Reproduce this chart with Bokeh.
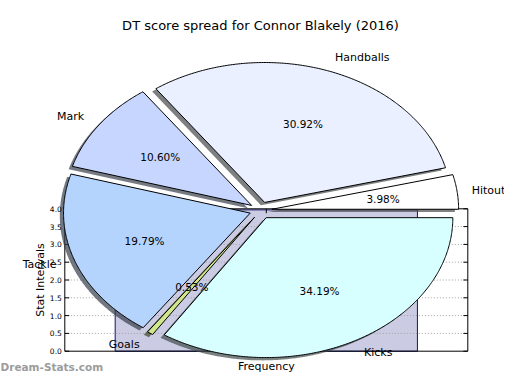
import numpy as np
from bokeh.plotting import figure
from bokeh.models import Range1d, ColumnDataSource
from bokeh.embed import file_html
from bokeh.resources import INLINE
from bokeh.core.properties import value

# ---------------- data ----------------
title_text = "DT score spread for Connor Blakely (2016)"
categories = ["Hitout", "Handballs", "Mark", "Tackle", "Goals", "Kicks"]
shares = [3.98, 30.92, 10.60, 19.79, 0.53, 34.19]
bar_categories = ["Frequency"]
bar_values = [3.97]
y_ticks = [0.0, 0.5, 1.0, 1.5, 2.0, 2.5, 3.0, 3.5, 4.0]
y_tick_labels = ["0.0", "0.5", "1.0", "1.5", "2.0", "2.5", "3.0", "3.5", "4.0"]
y_axis_label = "Stat Intervals"
watermark = "Dream-Stats.com"

# ---------------- styles ----------------
slice_colors = ["#ffffff", "#eaf0ff", "#c6d6ff", "#b4d4fe", "#cfe68a", "#d8ffff"]
bar_color = "#cbcbe4"
bar_edge = "#14146e"
FONT = "DejaVu Sans"

# ---------------- layout (pixels) ----------------
W, H = 504, 374
CX, CY, RX, RY = 260.3, 209.8, 186.7, 139.9      # pie centre / radii
EXPLODE = 0.06
SHADOW = 0.02
AX0, AX1, AYT, AYB = 64.3, 467.3, 208.3, 350.7    # inner axes box
XLIM = (-0.5, 0.5)
YLIM = (0.0, 4.0)
BAR_W = 0.75
TICK = 4.4

x_range = Range1d((0 - CX) / RX, (W - CX) / RX)
y_range = Range1d((CY - H) / RY, (CY - 0) / RY)

sx = (XLIM[1] - XLIM[0]) / (AX1 - AX0)
sy = (YLIM[1] - YLIM[0]) / (AYB - AYT)
bar_xr = Range1d(XLIM[0] - AX0 * sx, XLIM[1] + (W - AX1) * sx)
bar_yr = Range1d(YLIM[0] - (H - AYB) * sy, YLIM[1] + AYT * sy)

p = figure(width=W, height=H, x_range=x_range, y_range=y_range,
           output_backend="svg", toolbar_location=None, min_border=0,
           x_axis_type=None, y_axis_type=None, outline_line_color=None,
           background_fill_color="white", border_fill_color="white")
p.grid.visible = False
p.extra_x_ranges = {"bar": bar_xr}
p.extra_y_ranges = {"bar": bar_yr}
B = dict(x_range_name="bar", y_range_name="bar")

# ---------------- bar chart ----------------
p.vbar(x=[0.0], top=bar_values, bottom=0.0, width=BAR_W,
       fill_color=bar_color, line_color=bar_edge, line_width=1, **B)

inner = [t for t in y_ticks if YLIM[0] < t < YLIM[1]]
p.segment(x0=[XLIM[0]] * len(inner), x1=[XLIM[1]] * len(inner), y0=inner, y1=inner,
          line_color="#a0a0a0", line_width=1, line_dash="1 2", **B)

# ticks (inward)
p.segment(x0=[XLIM[0]] * len(y_ticks), x1=[XLIM[0] + TICK * sx] * len(y_ticks),
          y0=y_ticks, y1=y_ticks, line_color="black", line_width=1, **B)
p.segment(x0=[XLIM[1]] * len(y_ticks), x1=[XLIM[1] - TICK * sx] * len(y_ticks),
          y0=y_ticks, y1=y_ticks, line_color="black", line_width=1, **B)
p.segment(x0=[0.0, 0.0], x1=[0.0, 0.0], y0=[YLIM[0], YLIM[1]],
          y1=[YLIM[0] + TICK * sy, YLIM[1] - TICK * sy], line_color="black", line_width=1, **B)

# spines
p.quad(left=[XLIM[0]], right=[XLIM[1]], bottom=[YLIM[0]], top=[YLIM[1]],
       fill_color=None, line_color="black", line_width=1, **B)

# ---------------- pie ----------------
fr = np.array(shares, dtype=float)
fr = fr / fr.sum()
edges = np.concatenate([[0.0], np.cumsum(fr)]) * 2 * np.pi

xs, ys, sxs, sys_ = [], [], [], []
lab_x, lab_y, lab_align, pct_x, pct_y, pct_text = [], [], [], [], [], []
for i in range(len(categories)):
    t1, t2 = edges[i], edges[i + 1]
    mid = 0.5 * (t1 + t2)
    ox, oy = EXPLODE * np.cos(mid), EXPLODE * np.sin(mid)
    n = max(3, int(np.degrees(t2 - t1) * 2))
    t = np.linspace(t1, t2, n)
    px = np.concatenate([[ox], ox + np.cos(t)])
    py = np.concatenate([[oy], oy + np.sin(t)])
    xs.append(px.tolist()); ys.append(py.tolist())
    sxs.append((px - SHADOW).tolist()); sys_.append((py - SHADOW).tolist())
    lx = ox + 1.1 * np.cos(mid)
    lab_x.append(lx); lab_y.append(oy + 1.1 * np.sin(mid))
    lab_align.append("left" if lx > 0 else "right")
    pct_x.append(ox + 0.6 * np.cos(mid)); pct_y.append(oy + 0.6 * np.sin(mid))
    pct_text.append("%.2f%%" % (100 * fr[i]))

shadow_cols = []
for c in slice_colors:
    r, g, b = int(c[1:3], 16), int(c[3:5], 16), int(c[5:7], 16)
    shadow_cols.append("#%02x%02x%02x" % (int(r * 0.3), int(g * 0.3), int(b * 0.3)))

p.patches(xs=sxs, ys=sys_, fill_color=shadow_cols, fill_alpha=0.7, line_color=None)
src = ColumnDataSource(dict(xs=xs, ys=ys, color=slice_colors, name=categories))
p.patches(xs="xs", ys="ys", fill_color="color", line_color="black", line_width=1, source=src)

# keep labels inside the canvas (right-side label nudged if it would be cut)
lab_off = [-4 if a == "left" and (CX + x * RX) + 34 > W else 0 for x, a in zip(lab_x, lab_align)]
lab_src = ColumnDataSource(dict(x=lab_x, y=lab_y, text=categories, align=lab_align, off=lab_off))
p.text(x="x", y="y", text="text", text_align="align", text_baseline="middle", x_offset="off",
       text_font=value(FONT), text_font_size="11px", text_color="black", source=lab_src)
p.text(x=pct_x, y=pct_y, text=pct_text, text_align="center", text_baseline="middle",
       text_font=value(FONT), text_font_size="10.5px", text_color="black")

# ---------------- axis texts ----------------
p.text(x=[XLIM[0]] * len(y_ticks), y=y_ticks, text=y_tick_labels, x_offset=-3,
       text_align="right", text_baseline="middle", text_font=value(FONT),
       text_font_size="7.5px", text_color="black", **B)
p.text(x=[XLIM[0]], y=[0.5 * (YLIM[0] + YLIM[1])], text=[y_axis_label], x_offset=-24.8,
       angle=np.pi / 2, text_align="center", text_baseline="middle", text_font=value(FONT),
       text_font_size="11px", text_color="black", **B)
p.text(x=[0.0], y=[YLIM[0]], text=bar_categories, y_offset=15,
       text_align="center", text_baseline="middle", text_font=value(FONT),
       text_font_size="11px", text_color="black", **B)

# title and watermark
p.text(x=[(260.0 - CX) / RX], y=[(CY - 25.0) / RY], text=[title_text],
       text_align="center", text_baseline="middle", text_font=value(FONT),
       text_font_size="13px", text_color="black")
p.text(x=[x_range.start], y=[(CY - 366.0) / RY], text=[watermark], x_offset=0,
       text_align="left", text_baseline="middle", text_font=value(FONT),
       text_font_size="10.5px", text_font_style="bold", text_color="#9c9c9c")

open("out.html", "w").write(file_html(p, INLINE))
